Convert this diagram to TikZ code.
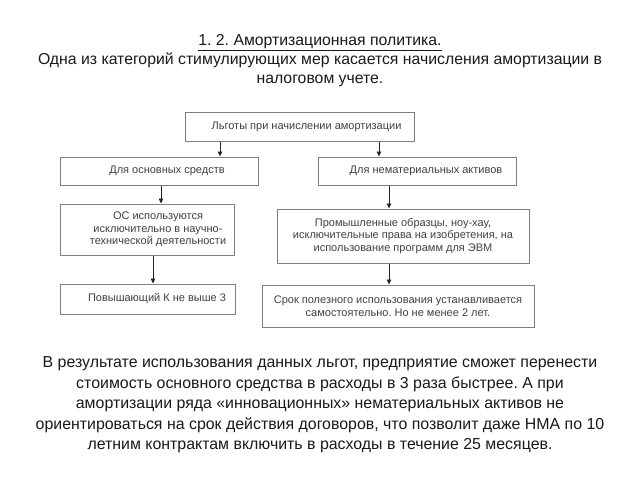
\documentclass[tikz,border=0pt]{standalone}
\usepackage{fontspec}
\setmainfont{Liberation Sans}
\frenchspacing
\usetikzlibrary{arrows.meta,positioning}
\tikzset{
    box/.style={draw=black!50, line width=1pt, inner sep=2pt, text=black!75, font=\fontsize{11}{12.8}\selectfont},
    flow/.style={-{Triangle[length=5pt, width=4.5pt]}, black!85, line width=0.8pt},
    pad/.style={execute at begin node={\hspace*{#1}}},
    heading/.style={align=center, text=black!90, font=\fontsize{15.8}{19}\selectfont}
}

\begin{document}
\begin{tikzpicture}[x=1pt, y=-1pt]
    \useasboundingbox (0,0) rectangle (640,480);

    \node[heading] (title) at (320,61) {\underline{1. 2. Амортизационная политика.}\\
        Одна из категорий стимулирующих мер касается начисления амортизации в\\
        налоговом учете.};

    \node[box, pad=14pt, minimum width=229pt, minimum height=29pt] (lgoty) at (299.5,126.5) {Льготы при начислении амортизации};
    \node[box, pad=16pt, minimum width=198pt, minimum height=28pt] (os) at (159,171) {Для основных средств};
    \node[box, pad=18pt, minimum width=198pt, minimum height=28pt] (nma) at (417,171) {Для нематериальных активов};
    \node[box, pad=22pt, minimum width=174pt, minimum height=51pt] (nauka) at (147,229.5)
        {\begin{tabular}{@{}c@{}}ОС используются\\исключительно в научно-\\технической деятельности\end{tabular}};
    \node[box, align=center, minimum width=252pt, minimum height=54pt] (prava) at (403,236)
        {Промышленные образцы, ноу-хау,\\исключительные права на изобретения, на\\использование программ для ЭВМ};
    \node[box, pad=19pt, minimum width=175pt, minimum height=30pt] (koef) at (147.5,299) {Повышающий К не выше 3};
    \node[box, align=center, minimum width=272pt, minimum height=42pt] (srok) at (398,306)
        {Срок полезного использования устанавливается\\самостоятельно. Но не менее 2 лет.};

    \draw[flow] ([xshift=-79.5pt]lgoty.south) -- ([xshift=-79.5pt]lgoty.south |- os.north);
    \draw[flow] ([xshift=79.5pt]lgoty.south) -- ([xshift=79.5pt]lgoty.south |- nma.north);
    \draw[flow] ([xshift=2pt]os.south) -- ([xshift=2pt]os.south |- nauka.north);
    \draw[flow] ([xshift=-28pt]nma.south) -- ([xshift=-28pt]nma.south |- prava.north);
    \draw[flow] ([xshift=6pt]nauka.south) -- ([xshift=6pt]nauka.south |- koef.north);
    \draw[flow] ([xshift=-14pt]prava.south) -- ([xshift=-14pt]prava.south |- srok.north);

    \node[heading, font=\fontsize{15.9}{20.5}\selectfont] (itog) at (320,405)
        {В результате использования данных льгот, предприятие сможет перенести\\
        стоимость основного средства в расходы в 3 раза быстрее. А при\\
        амортизации ряда «инновационных» нематериальных активов не\\
        ориентироваться на срок действия договоров, что позволит даже НМА по 10\\
        летним контрактам включить в расходы в течение 25 месяцев.};
\end{tikzpicture}
\end{document}
